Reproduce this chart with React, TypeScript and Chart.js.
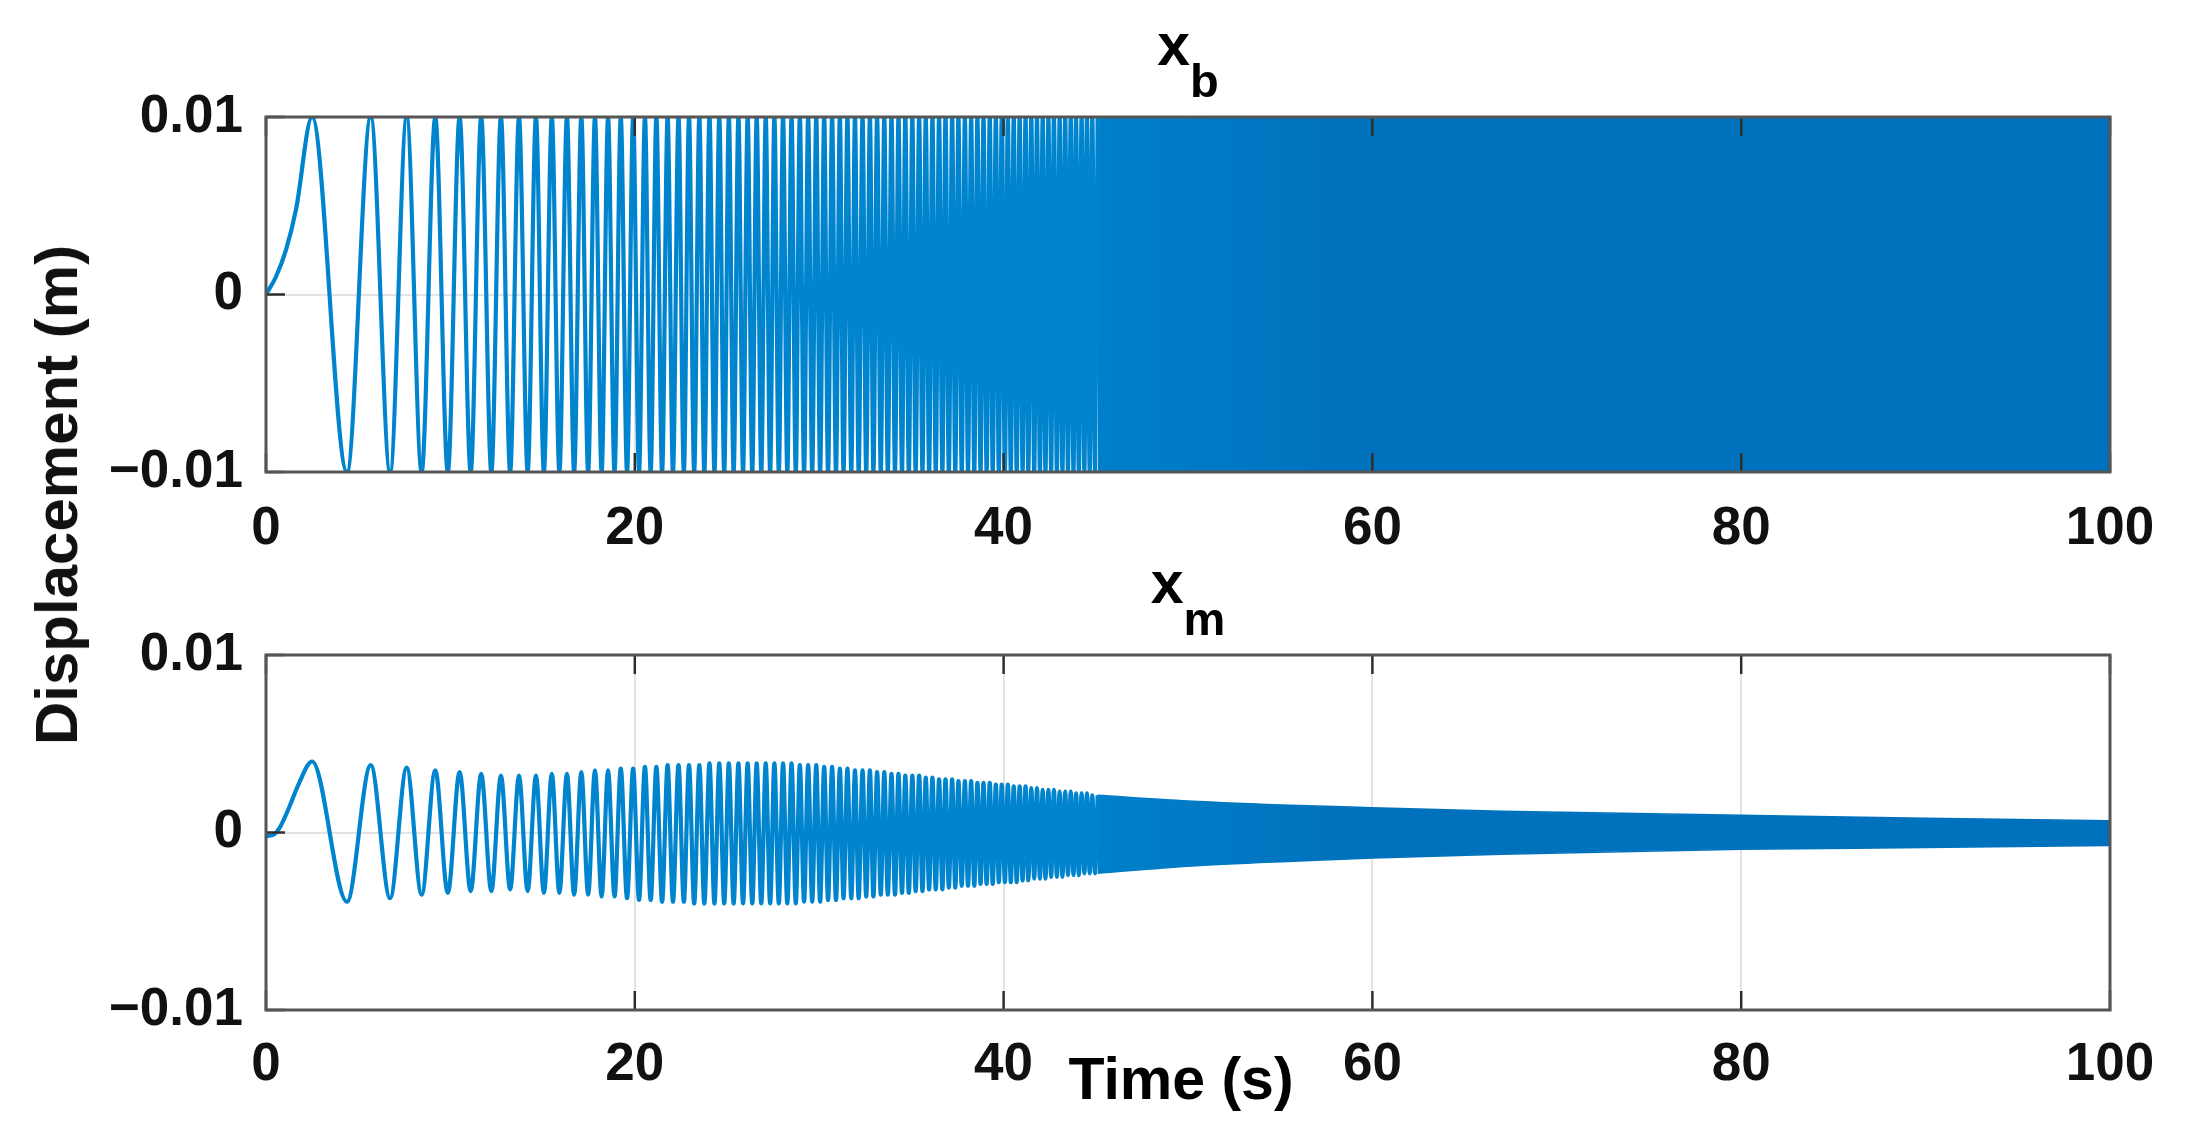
import { useEffect, useRef } from 'react';
import { Chart, registerables } from 'chart.js';

Chart.register(...registerables);

const FONT = '"Liberation Sans", Arial, Helvetica, sans-serif';

// ---- axes ----
const xTicks = [0, 20, 40, 60, 80, 100];
const xTickLabels = ['0', '20', '40', '60', '80', '100'];
const yTicks = [-0.01, 0, 0.01];
const yTickLabels = ['\u22120.01', '0', '0.01'];

// ---- times of successive extrema (peak, trough, peak, ...), s ----
const extremaTimes = [
  2.50, 4.39, 5.68, 6.73, 7.63, 8.44, 9.18, 9.86, 10.50, 11.10,
  11.67, 12.22, 12.74, 13.24, 13.72, 14.19, 14.64, 15.07, 15.50, 15.91,
  16.32, 16.71, 17.10, 17.47, 17.84, 18.20, 18.55, 18.90, 19.24, 19.58,
  19.91, 20.23, 20.55, 20.86, 21.17, 21.48, 21.78, 22.07, 22.37, 22.66,
  22.94, 23.22, 23.50, 23.77, 24.05, 24.32, 24.58, 24.85, 25.10, 25.36,
  25.62, 25.87, 26.12, 26.37, 26.61, 26.86, 27.10, 27.34, 27.57, 27.81,
  28.04, 28.27, 28.50, 28.73, 28.95, 29.18, 29.40, 29.62, 29.84, 30.05,
  30.27, 30.48, 30.70, 30.91, 31.12, 31.32, 31.53, 31.74, 31.94, 32.14,
  32.35, 32.55, 32.75, 32.94, 33.14, 33.34, 33.53, 33.72, 33.92, 34.11,
  34.30, 34.49, 34.67, 34.86, 35.05, 35.23, 35.42, 35.60, 35.78, 35.96,
  36.14, 36.32, 36.50, 36.68, 36.85, 37.03, 37.21, 37.38, 37.55, 37.73,
  37.90, 38.07, 38.24, 38.41, 38.58, 38.75, 38.91, 39.08, 39.25, 39.41,
  39.58, 39.74, 39.90, 40.07, 40.23, 40.39, 40.55, 40.71, 40.87, 41.03,
  41.19, 41.34, 41.50, 41.66, 41.81, 41.97, 42.12, 42.27, 42.43, 42.58,
  42.73, 42.89, 43.04, 43.19, 43.34, 43.49, 43.64, 43.79, 43.93, 44.08,
  44.23, 44.38, 44.52, 44.67, 44.81, 44.96, 45.10,
];

// ---- x_b (base displacement) ----
const xbLeadTimes = [0, 0.54, 1.08, 1.63];
const xbLeadValues = [0, 0.001, 0.0025, 0.0048];
const xbAmplitude = 0.01;
const xbBandTimes = [45.1, 100];
const xbBandUpper = [0.01, 0.01];
const xbBandLower = [-0.01, -0.01];

// ---- x_m (mass displacement) ----
const xmLeadTimes = [0, 0.36, 0.72, 1.27, 1.8];
const xmLeadValues = [-0.0002, -0.00015, 0.00023, 0.00145, 0.0028];
const xmExtrema = [
  0.0040, -0.0039, 0.0038, -0.0037, 0.00365, -0.0035, 0.0035, -0.0034, 0.0034, -0.0033,
  0.0033, -0.0033, 0.0032, -0.0032, 0.0032, -0.0033, 0.0032, -0.0034, 0.0033, -0.0034,
  0.0033, -0.0035, 0.0034, -0.0035, 0.0035, -0.0036, 0.0035, -0.0036, 0.0036, -0.0037,
  0.0036, -0.0038, 0.0037, -0.0038, 0.0037, -0.0039, 0.0038, -0.0039, 0.0038, -0.0039,
  0.0038, -0.0040, 0.0038, -0.0040, 0.0039, -0.0040, 0.0039, -0.0040, 0.0039, -0.0040,
  0.0039, -0.0040, 0.0039, -0.0040, 0.0039, -0.0040, 0.0039, -0.0040, 0.0039, -0.0040,
  0.0039, -0.0040, 0.0039, -0.0040, 0.0038, -0.0039, 0.0038, -0.0039, 0.0038, -0.0039,
  0.0037, -0.0038, 0.0037, -0.0038, 0.0036, -0.0037, 0.0036, -0.0037, 0.0035, -0.0037,
  0.0035, -0.0036, 0.0035, -0.0036, 0.0034, -0.0035, 0.0034, -0.0035, 0.0033, -0.0035,
  0.0033, -0.0034, 0.0032, -0.0034, 0.0032, -0.0033, 0.0032, -0.0033, 0.0031, -0.0032,
  0.0031, -0.0032, 0.0030, -0.0032, 0.0030, -0.0031, 0.0030, -0.0031, 0.0029, -0.0030,
  0.0029, -0.0030, 0.0029, -0.0030, 0.0028, -0.0029, 0.0028, -0.0029, 0.0028, -0.0029,
  0.0027, -0.0028, 0.0027, -0.0028, 0.0027, -0.0028, 0.0026, -0.0028, 0.0026, -0.0027,
  0.0026, -0.0027, 0.0025, -0.0026, 0.0025, -0.0026, 0.0024, -0.0026, 0.0024, -0.0025,
  0.0024, -0.0025, 0.0023, -0.0025, 0.0023, -0.0024, 0.0023, -0.0024, 0.0022, -0.0024,
  0.0022, -0.0023, 0.0022, -0.0023, 0.0021, -0.0023, 0.0021,
];
const xmBandTimes = [45.1, 50, 56, 60, 67, 80, 90, 100];
const xmBandUpper = [0.0021, 0.00178, 0.00152, 0.0014, 0.0012, 0.00097, 0.0008, 0.00066];
const xmBandLower = [-0.0023, -0.0019, -0.0016, -0.00143, -0.00122, -0.00095, -0.00085, -0.00073];

const LINE_COLOR = 'rgb(0,132,206)';
const BAND_COLOR = '#0072BD';
const BAND_FADE_START = 'rgb(0,128,202)';

const pts = (xs: number[], ys: number[]) => xs.map((x, i) => ({ x, y: ys[i] }));

function framePlugin() {
  return {
    id: 'frameTicks',
    afterDatasetsDraw(chart: any) {
      const { ctx, chartArea: a, scales } = chart;
      ctx.save();
      const len = 19;
      ctx.strokeStyle = '#2e2e2e';
      ctx.lineWidth = 2.5;
      ctx.beginPath();
      scales.x.ticks.forEach((t: any) => {
        const px = scales.x.getPixelForValue(t.value);
        ctx.moveTo(px, a.bottom);
        ctx.lineTo(px, a.bottom - len);
        ctx.moveTo(px, a.top);
        ctx.lineTo(px, a.top + len);
      });
      scales.y.ticks.forEach((t: any) => {
        const py = scales.y.getPixelForValue(t.value);
        ctx.moveTo(a.left, py);
        ctx.lineTo(a.left + len, py);
      });
      ctx.stroke();
      ctx.strokeStyle = '#555555';
      ctx.lineWidth = 3;
      ctx.strokeRect(a.left, a.top, a.right - a.left, a.bottom - a.top);
      ctx.restore();
    },
  };
}

function titlePlugin(main: string, sub: string) {
  return {
    id: 'subTitle',
    afterDraw(chart: any) {
      const { ctx, chartArea: a } = chart;
      ctx.save();
      ctx.fillStyle = '#000';
      ctx.textBaseline = 'alphabetic';
      ctx.textAlign = 'left';
      const mainFont = `bold 59px ${FONT}`;
      const subFont = `bold 47px ${FONT}`;
      ctx.font = mainFont;
      const wm = ctx.measureText(main).width;
      ctx.font = subFont;
      const ws = ctx.measureText(sub).width;
      const cx = (a.left + a.right) / 2;
      const x0 = cx - (wm + ws) / 2;
      ctx.font = mainFont;
      ctx.fillText(main, x0, a.top - 52);
      ctx.font = subFont;
      ctx.fillText(sub, x0 + wm, a.top - 20);
      ctx.restore();
    },
  };
}

function xLabelPlugin(text: string) {
  return {
    id: 'xLabel',
    afterDraw(chart: any) {
      const { ctx, chartArea: a } = chart;
      ctx.save();
      ctx.fillStyle = '#000';
      ctx.font = `bold 59px ${FONT}`;
      ctx.textAlign = 'center';
      ctx.textBaseline = 'alphabetic';
      ctx.fillText(text, (a.left + a.right) / 2 - 7, a.bottom + 89);
      ctx.restore();
    },
  };
}

function makeConfig(
  datasets: any[],
  padTop: number,
  xAxisHeight: number,
  xPad: number,
  plugins: any[]
) {
  const tickFont = { family: FONT, size: 53, weight: 'bold' as const };
  return {
    type: 'line' as const,
    data: { datasets },
    options: {
      animation: false as const,
      responsive: false,
      devicePixelRatio: 1,
      events: [],
      layout: { padding: { top: padTop, right: 76, left: 0, bottom: 0 } },
      plugins: { legend: { display: false }, tooltip: { enabled: false } },
      elements: { point: { radius: 0 } },
      scales: {
        x: {
          type: 'linear' as const,
          min: 0,
          max: 100,
          afterBuildTicks: (s: any) => {
            s.ticks = xTicks.map((v) => ({ value: v }));
          },
          afterFit: (s: any) => {
            s.height = xAxisHeight;
          },
          ticks: {
            autoSkip: false,
            maxRotation: 0,
            padding: xPad,
            color: '#111',
            font: tickFont,
            callback: (v: number) => xTickLabels[xTicks.indexOf(v)] ?? '',
          },
          grid: { color: '#e3e3e3', lineWidth: 2, drawTicks: false },
          border: { display: false },
        },
        y: {
          type: 'linear' as const,
          min: -0.01,
          max: 0.01,
          afterBuildTicks: (s: any) => {
            s.ticks = yTicks.map((v) => ({ value: v }));
          },
          afterFit: (s: any) => {
            s.width = 266;
          },
          ticks: {
            autoSkip: false,
            padding: 23,
            color: '#111',
            font: tickFont,
            callback: (v: number) => {
              const i = yTicks.findIndex((t) => Math.abs(t - v) < 1e-9);
              return i >= 0 ? yTickLabels[i] : '';
            },
          },
          grid: { color: '#e3e3e3', lineWidth: 2, drawTicks: false },
          border: { display: false },
        },
      },
    },
    plugins: [framePlugin(), ...plugins],
  };
}

function lineDataset(data: any[]) {
  return {
    data,
    borderColor: LINE_COLOR,
    borderWidth: 4.2,
    cubicInterpolationMode: 'monotone' as const,
    pointRadius: 0,
    fill: false,
  };
}

function bandFill(context: any) {
  const chart = context.chart;
  const { ctx, chartArea, scales } = chart;
  if (!chartArea || !scales.x) return BAND_COLOR;
  const x0 = scales.x.getPixelForValue(45);
  const x1 = scales.x.getPixelForValue(58);
  const g = ctx.createLinearGradient(x0, 0, x1, 0);
  g.addColorStop(0, BAND_FADE_START);
  g.addColorStop(1, BAND_COLOR);
  return g;
}

function bandDatasets(times: number[], upper: number[], lower: number[]) {
  return [
    {
      data: pts(times, upper),
      borderColor: bandFill,
      backgroundColor: bandFill,
      borderWidth: 1.5,
      cubicInterpolationMode: 'monotone' as const,
      pointRadius: 0,
      fill: '+1',
    },
    {
      data: pts(times, lower),
      borderColor: bandFill,
      backgroundColor: bandFill,
      borderWidth: 1.5,
      cubicInterpolationMode: 'monotone' as const,
      pointRadius: 0,
      fill: false,
    },
  ];
}

export default function App() {
  const topRef = useRef<HTMLCanvasElement>(null);
  const botRef = useRef<HTMLCanvasElement>(null);

  useEffect(() => {
    const xbData = [
      ...pts(xbLeadTimes, xbLeadValues),
      ...extremaTimes.map((t, i) => ({ x: t, y: i % 2 === 0 ? xbAmplitude : -xbAmplitude })),
    ];
    const xmData = [...pts(xmLeadTimes, xmLeadValues), ...pts(extremaTimes, xmExtrema)];

    const c1 = new Chart(
      topRef.current as HTMLCanvasElement,
      makeConfig(
        [lineDataset(xbData), ...bandDatasets(xbBandTimes, xbBandUpper, xbBandLower)],
        117,
        88,
        26,
        [titlePlugin('x', 'b')]
      ) as any
    );
    const c2 = new Chart(
      botRef.current as HTMLCanvasElement,
      makeConfig(
        [lineDataset(xmData), ...bandDatasets(xmBandTimes, xmBandUpper, xmBandLower)],
        95,
        129,
        24,
        [titlePlugin('x', 'm'), xLabelPlugin('Time (s)')]
      ) as any
    );
    return () => {
      c1.destroy();
      c2.destroy();
    };
  }, []);

  return (
    <div
      style={{
        position: 'absolute',
        left: 0,
        top: 0,
        width: 2186,
        height: 1139,
        background: '#fff',
        overflow: 'hidden',
      }}
    >
      <canvas
        ref={topRef}
        width={2186}
        height={560}
        style={{ position: 'absolute', left: 0, top: 0, width: 2186, height: 560 }}
      />
      <canvas
        ref={botRef}
        width={2186}
        height={579}
        style={{ position: 'absolute', left: 0, top: 560, width: 2186, height: 579 }}
      />
      <div
        style={{
          position: 'absolute',
          left: 57,
          top: 495,
          transform: 'translate(-50%, -50%) rotate(-90deg)',
          font: `bold 60px ${FONT}`,
          lineHeight: '60px',
          whiteSpace: 'nowrap',
          color: '#111',
        }}
      >
        Displacement (m)
      </div>
    </div>
  );
}
